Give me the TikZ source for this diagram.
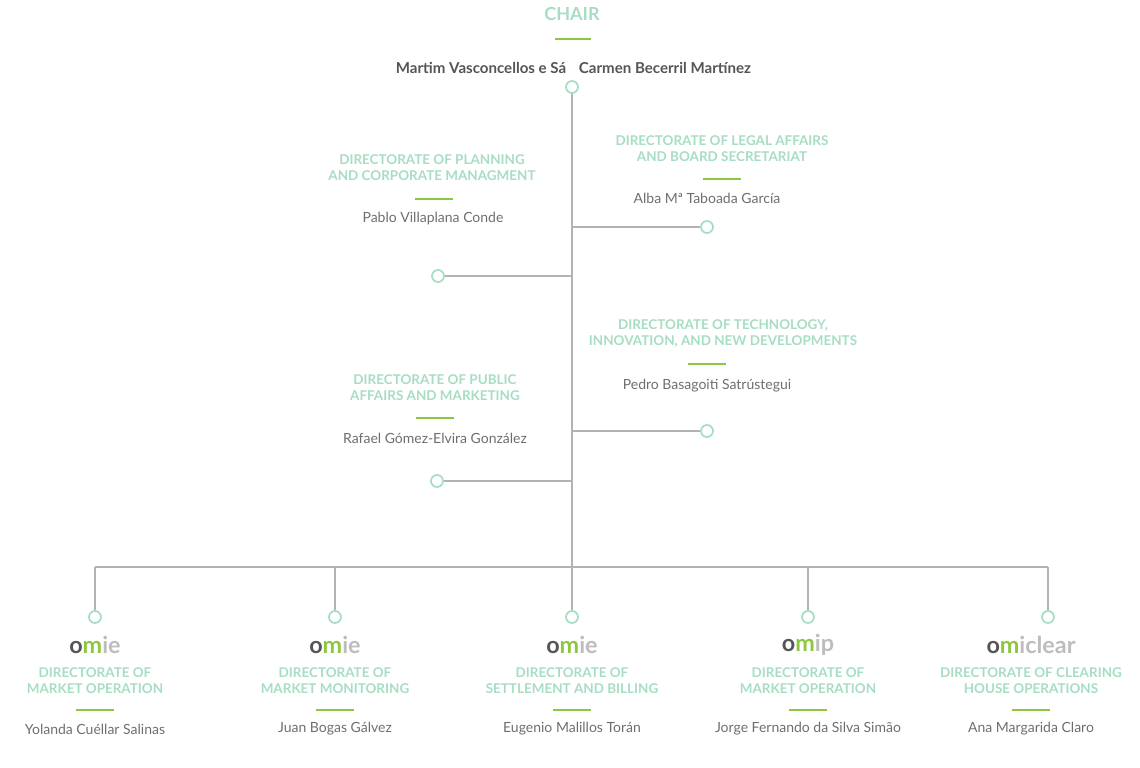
\documentclass[tikz,border=0pt]{standalone}
\usepackage{fontspec}
\setmainfont{Lato}
\definecolor{mint}{HTML}{A6DDC3}
\definecolor{acc}{HTML}{8DC63F}
\definecolor{ln}{HTML}{B3B3B3}
\definecolor{dk}{HTML}{555555}
\definecolor{nm}{HTML}{6E6E6E}
\definecolor{lgry}{HTML}{BDBDBD}
\tikzset{x=0.75pt,y=-0.75pt,
 ttl/.style={font=\bfseries\fontsize{10.1}{12}\selectfont,text=mint,align=center,inner sep=0},
 nam/.style={font=\fontsize{10.5}{12}\selectfont,text=nm,inner sep=0},
 dot/.style={circle,draw=mint,line width=1.3pt,fill=white,minimum size=9pt,inner sep=0},
 con/.style={draw=ln,line width=1.5pt},
 bar/.style={draw=acc,line width=1.6pt},
 logo/.style={font=\bfseries\fontsize{17.5}{17.5}\selectfont,inner sep=0}}
\newcommand{\omilogo}[1]{\textcolor{dk}{o}\textcolor{acc}{m}\textcolor{lgry}{#1}}
\begin{document}
\begin{tikzpicture}
\useasboundingbox (0,0) rectangle (1140,768);
% chair
\node[font=\bfseries\fontsize{13.5}{14}\selectfont,text=mint,inner sep=0] (chair) at (572,14) {CHAIR};
\draw[bar] (555,39) -- (591,39);
\node[font=\bfseries\fontsize{11.3}{12}\selectfont,text=dk,inner sep=0] (n1) at (481,68) {Martim Vasconcellos e Sá};
\node[font=\bfseries\fontsize{11.3}{12}\selectfont,text=dk,inner sep=0] (n2) at (665,68) {Carmen Becerril Martínez};
\coordinate (top) at (572,93);
\coordinate (j1) at (572,227);
\coordinate (j2) at (572,276);
\coordinate (j3) at (572,431);
\coordinate (j4) at (572,481);
\coordinate (jb) at (572,567);
\draw[con] (top) -- (jb);
\node[dot] (c0) at (572,87) {};
\node[dot] (r1) at (707,227) {};
\node[dot] (l1) at (438,276) {};
\node[dot] (r2) at (707,431) {};
\node[dot] (l2) at (437,481) {};
\draw[con] (j1) -- (r1); \draw[con] (j2) -- (l1);
\draw[con] (j3) -- (r2); \draw[con] (j4) -- (l2);
% side blocks
\node[ttl] (tp) at (432,168) {DIRECTORATE OF PLANNING\\AND CORPORATE MANAGMENT};
\draw[bar] (415,199) -- (453,199);
\node[nam] (np) at (433,219) {Pablo Villaplana Conde};
\node[ttl] (tl) at (722,149) {DIRECTORATE OF LEGAL AFFAIRS\\AND BOARD SECRETARIAT};
\draw[bar] (703,179) -- (741,179);
\node[nam] (nl) at (707,198) {Alba Mª Taboada García};
\node[ttl] (tt) at (723,334) {DIRECTORATE OF TECHNOLOGY,\\INNOVATION, AND NEW DEVELOPMENTS};
\draw[bar] (688,364) -- (726,364);
\node[nam] (nt) at (707,386) {Pedro Basagoiti Satrústegui};
\node[ttl] (tu) at (435,388) {DIRECTORATE OF PUBLIC\\AFFAIRS AND MARKETING};
\draw[bar] (416,418) -- (454,418);
\node[nam] (nu) at (435,438) {Rafael Gómez-Elvira González};
% bottom
\draw[con] (95,567) -- (1048,567);
\foreach \x/\n/\lo/\t/\p in {
 95/b1/ie/{DIRECTORATE OF\\MARKET OPERATION}/{Yolanda Cuéllar Salinas},
 335/b2/ie/{DIRECTORATE OF\\MARKET MONITORING}/{Juan Bogas Gálvez},
 572/b3/ie/{DIRECTORATE OF\\SETTLEMENT AND BILLING}/{Eugenio Malillos Torán},
 808/b4/ip/{DIRECTORATE OF\\MARKET OPERATION}/{Jorge Fernando da Silva Simão},
 1031/b5/iclear/{DIRECTORATE OF CLEARING\\HOUSE OPERATIONS}/{Ana Margarida Claro}}{
 \coordinate (h\n) at (\x,567);
 \node[logo] (lo\n) at (\x,645) {\omilogo{\lo}};
 \node[ttl] (t\n) at (\x,681) {\t};
 \draw[bar] (\x-19,710) -- (\x+19,710);
 \node[nam] (p\n) at (\x,729) {\p};
}
\foreach \x/\n in {95/b1,335/b2,572/b3,808/b4,1048/b5}{
 \coordinate (h\n) at (\x,567);
 \node[dot] (\n) at (\x,617) {};
 \draw[con] (h\n) -- (\n);
}
\end{tikzpicture}
\end{document}
